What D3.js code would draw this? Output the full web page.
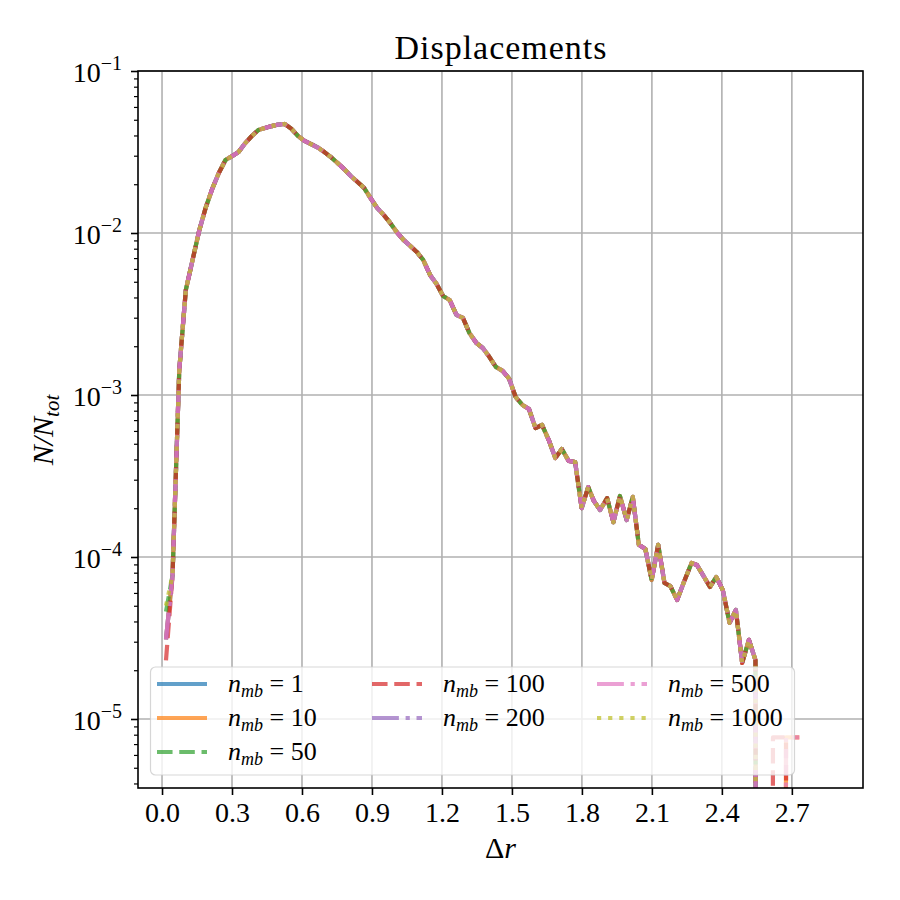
<!DOCTYPE html>
<html><head><meta charset="utf-8">
<script src="https://cdn.jsdelivr.net/npm/d3@7"></script>
<style>
body{margin:0;background:#fff}
svg{display:block;background:#fff}
text{font-family:"Liberation Serif","Times New Roman",serif;fill:#000;white-space:pre}
</style>
</head><body><svg id="c" width="900" height="900"></svg>
<script>
// ---------- data ----------
const seriesLabels = ["1", "10", "50", "100", "200", "500", "1000"];
const seriesColors = ["#1f77b4", "#ff7f0e", "#2ca02c", "#d62728", "#9467bd", "#e377c2", "#bcbd22"];
const seriesStyles = ["solid", "solid", "dashed", "dashed", "dashdot", "dashdot", "dotted"];

const deltaR = [0.017,0.045,0.074,0.102,0.130,0.159,0.187,0.215,0.243,0.272,0.300,0.328,0.357,0.385,0.413,0.441,0.470,0.498,0.526,0.555,0.583,0.611,0.639,0.668,0.696,0.724,0.753,0.781,0.809,0.837,0.866,0.894,0.922,0.951,0.979,1.007,1.035,1.064,1.092,1.120,1.149,1.177,1.205,1.233,1.262,1.290,1.318,1.347,1.375,1.403,1.431,1.460,1.488,1.516,1.545,1.573,1.601,1.629,1.658,1.686,1.714,1.743,1.771,
  1.799,1.827,1.851,1.878,1.908,1.935,1.963,1.992,2.018,2.044,2.072,2.099,2.127,2.154,2.179,2.208,2.239,2.270,2.293,2.321,2.349,2.376,2.404,2.433,2.460,2.487,2.516,2.544];

const fraction = [3.1e-5,7.7e-5,1.43e-3,4.45e-3,6.72e-3,1.03e-2,1.43e-2,1.87e-2,2.34e-2,2.82e-2,2.98e-2,3.16e-2,3.59e-2,3.97e-2,4.32e-2,4.45e-2,4.57e-2,4.67e-2,4.71e-2,4.39e-2,3.97e-2,3.70e-2,3.54e-2,3.37e-2,3.16e-2,2.94e-2,2.70e-2,2.48e-2,2.25e-2,2.07e-2,1.90e-2,1.64e-2,1.43e-2,1.29e-2,1.15e-2,1.01e-2,9.06e-3,8.32e-3,7.64e-3,6.81e-3,5.51e-3,4.84e-3,4.08e-3,3.86e-3,3.12e-3,2.99e-3,2.41e-3,2.10e-3,1.95e-3,1.72e-3,1.49e-3,1.41e-3,1.26e-3,9.72e-4,8.68e-4,8.20e-4,6.25e-4,6.53e-4,5.27e-4,4.08e-4,4.64e-4,3.92e-4,3.86e-4,
  2.00e-4,2.70e-4,2.22e-4,1.95e-4,2.31e-4,1.64e-4,2.38e-4,1.69e-4,2.35e-4,1.19e-4,1.12e-4,7.21e-5,1.19e-4,6.91e-5,6.62e-5,5.43e-5,7.11e-5,9.18e-5,8.93e-5,7.64e-5,6.53e-5,7.53e-5,6.25e-5,3.92e-5,4.71e-5,2.22e-5,3.08e-5,2.31e-5];

// first bin differs slightly between series
const firstValue = [3.1e-5, 3.1e-5, 4.6e-5, 2.3e-5, 3.1e-5, 3.1e-5, 5.0e-5];

// last bins (zero = empty bin)
const tailR     = [2.572, 2.600, 2.619, 2.647, 2.675, 2.703, 2.732];
const tailEmpty = [0, 0, 0, 0, 0, 0, 0];
const tailA     = [0, 0, 7.7e-6, 7.7e-6, 7.7e-6, 0, 0];
const tailB     = [0, 0, 0, 0, 7.7e-6, 7.7e-6, 7.7e-6];
const seriesTails = [tailEmpty, tailB, tailEmpty, tailA, tailEmpty, tailB, tailEmpty];

const xTicks = [0.0, 0.3, 0.6, 0.9, 1.2, 1.5, 1.8, 2.1, 2.4, 2.7];
const yMajor = [1e-5, 1e-4, 1e-3, 1e-2, 1e-1];
const yExp = ["5", "4", "3", "2", "1"];

// ---------- chart ----------
const svg = d3.select("#c");
const M = {l: 138, r: 863, t: 71, b: 788};
const x = d3.scaleLinear().domain([-0.103, 3.005]).range([M.l, M.r]);
const y = d3.scaleLog().domain([3.75e-6, 0.1]).range([M.b, M.t]);
const LW = 4.2;
const dashes = {
  solid: null,
  dashed: [3.7 * LW, 1.6 * LW].join(","),
  dashdot: [6.4 * LW, 1.6 * LW, 1 * LW, 1.6 * LW].join(","),
  dotted: [1 * LW, 1.65 * LW].join(",")
};

svg.append("defs").append("clipPath").attr("id", "clip")
  .append("rect").attr("x", M.l).attr("y", M.t).attr("width", M.r - M.l).attr("height", M.b - M.t);

// grid
const grid = svg.append("g").attr("stroke", "#b0b0b0").attr("stroke-width", 1.6);
grid.selectAll(".gx").data(xTicks).join("line")
  .attr("x1", d => x(d)).attr("x2", d => x(d)).attr("y1", M.t).attr("y2", M.b);
grid.selectAll(".gy").data(yMajor).join("line")
  .attr("y1", d => y(d)).attr("y2", d => y(d)).attr("x1", M.l).attr("x2", M.r);

// lines
const line = d3.line().x(d => x(d[0])).y(d => y(Math.max(d[1], 1e-30)));
const plot = svg.append("g").attr("clip-path", "url(#clip)");
seriesLabels.forEach((lab, s) => {
  const pts = deltaR.map((r, i) => [r, i === 0 ? firstValue[s] : fraction[i]])
    .concat(tailR.map((r, j) => [r, seriesTails[s][j]]));
  plot.append("path").datum(pts)
    .attr("d", line)
    .attr("fill", "none")
    .attr("stroke", seriesColors[s])
    .attr("stroke-opacity", 0.7)
    .attr("stroke-width", LW)
    .attr("stroke-linejoin", "round")
    .attr("stroke-dasharray", dashes[seriesStyles[s]]);
});

// axes
const xAxis = d3.axisBottom(x).tickValues(xTicks).tickSize(7).tickFormat(d => d.toFixed(1));
const gx = svg.append("g").attr("transform", `translate(0,${M.b})`).call(xAxis);
gx.select(".domain").remove();
gx.selectAll("line").attr("stroke-width", 1.6);
gx.selectAll("text").attr("y", 14).attr("font-size", 28).style("font-family", "'Liberation Serif',serif");

const minor = y.ticks().filter(v => !yMajor.some(m => Math.abs(m - v) / m < 1e-6));
const gyMinor = svg.append("g").attr("transform", `translate(${M.l},0)`)
  .call(d3.axisLeft(y).tickValues(minor).tickSize(4).tickFormat(""));
gyMinor.select(".domain").remove();
gyMinor.selectAll("line").attr("stroke-width", 1.2);

const gy = svg.append("g").attr("transform", `translate(${M.l},0)`)
  .call(d3.axisLeft(y).tickValues(yMajor).tickSize(7).tickFormat(""));
gy.select(".domain").remove();
gy.selectAll("line").attr("stroke-width", 1.6);

const ylab = svg.append("g").selectAll("text").data(yMajor).join("text")
  .attr("x", 122).attr("y", d => y(d) + 11).attr("text-anchor", "end").attr("font-size", 28);
ylab.append("tspan").text("10");
ylab.append("tspan").attr("font-size", 20).attr("dy", -12).text((d, i) => "\u2212" + yExp[i]);

// frame
svg.append("rect").attr("x", M.l).attr("y", M.t).attr("width", M.r - M.l).attr("height", M.b - M.t)
  .attr("fill", "none").attr("stroke", "#000").attr("stroke-width", 1.6);

// title & labels
svg.append("text").attr("x", (M.l + M.r) / 2).attr("y", 59).attr("text-anchor", "middle")
  .attr("font-size", 34).attr("textLength", 212).attr("lengthAdjust", "spacing").text("Displacements");

const xl = svg.append("text").attr("x", (M.l + M.r) / 2).attr("y", 858).attr("text-anchor", "middle").attr("font-size", 30);
xl.append("tspan").text("\u0394");
xl.append("tspan").attr("font-style", "italic").text("r");

const yl = svg.append("text").attr("transform", "translate(53,430) rotate(-90)").attr("text-anchor", "middle")
  .attr("font-size", 30).attr("font-style", "italic");
yl.append("tspan").text("N/N");
yl.append("tspan").attr("font-size", 21).attr("dy", 6).text("tot");

// legend
const leg = svg.append("g");
leg.append("rect").attr("x", 150.5).attr("y", 667).attr("width", 644).attr("height", 108).attr("rx", 5)
  .attr("fill", "#fff").attr("fill-opacity", 0.8).attr("stroke", "#cccccc").attr("stroke-opacity", 0.8).attr("stroke-width", 1.2);
const colX = [157, 372, 597];
const rowY = [684, 718, 752];
const colOf = [0, 0, 0, 1, 1, 2, 2];
const rowOf = [0, 1, 2, 0, 1, 0, 1];
seriesLabels.forEach((lab, s) => {
  const cx = colX[colOf[s]], cy = rowY[rowOf[s]];
  leg.append("line").attr("x1", cx).attr("x2", cx + 50).attr("y1", cy).attr("y2", cy)
    .attr("stroke", seriesColors[s]).attr("stroke-opacity", 0.7).attr("stroke-width", LW)
    .attr("stroke-dasharray", dashes[seriesStyles[s]]);
  const t = leg.append("text").attr("x", cx + 71).attr("y", cy + 8).attr("font-size", 26);
  t.append("tspan").attr("font-style", "italic").text("n");
  t.append("tspan").attr("font-style", "italic").attr("font-size", 18).attr("dy", 5).text("mb");
  t.append("tspan").attr("dy", -5).text(" = " + lab);
});
</script></body></html>
